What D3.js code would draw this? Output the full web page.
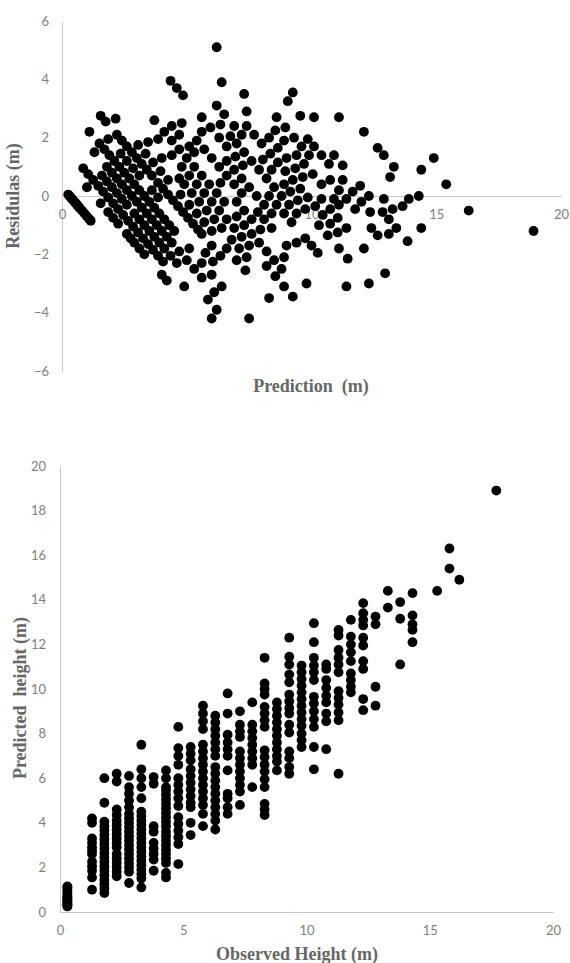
<!DOCTYPE html>
<html>
<head>
<meta charset="utf-8">
<script src="https://cdn.jsdelivr.net/npm/d3@7"></script>
<style>
  body { margin: 0; background: #fff; }
  svg text { white-space: pre; }
</style>
</head>
<body>
<div id="chart"></div>
<script>
// Configuration
const WIDTH = 570;
const HEIGHT = 963;
const DOT_R = 4.9;
const AXIS_COLOR = "#c8c8c8";
const TICK_COLOR = "#808080";
const TITLE_COLOR = "#666";

// Data: observed height columns, predicted heights per column, residuals (observed - predicted) per column
const observed = [0.3, 1.3, 1.8, 2.3, 2.8, 3.3, 3.8, 4.3, 4.8, 5.3, 5.8, 6.3, 6.8, 7.3, 7.8, 8.3,
    8.8, 9.3, 9.8, 10.3, 10.8, 11.3, 11.8, 12.3, 12.8, 13.3, 13.8, 14.3, 15.3, 15.8, 16.2, 17.7];

const predicted = [
    [0.25, 0.3, 0.35, 0.4, 0.45, 0.5, 0.55, 0.6, 0.65, 0.7, 0.8, 0.9, 1.0, 1.1, 1.15],
    [4.2, 4.0, 3.3, 3.1, 2.9, 2.75, 2.6, 2.25, 2.05, 1.85, 1.55, 1.0],
    [6.0, 4.9, 4.05, 3.85, 3.65, 3.45, 3.25, 3.05, 2.85, 2.65, 2.45, 2.25, 2.05, 1.85, 1.65, 1.45, 1.25, 1.05, 0.85],
    [6.2, 5.85, 4.6, 4.35, 4.1, 3.9, 3.7, 3.5, 3.3, 3.1, 2.9, 2.6, 2.4, 2.2, 2.0, 1.8, 1.6],
    [6.1, 5.6, 5.3, 5.0, 4.7, 4.4, 4.2, 4.0, 3.8, 3.6, 3.4, 3.2, 3.0, 2.8, 2.6, 2.4, 2.2, 2.0, 1.8, 1.3],
    [7.5, 6.4, 6.0, 5.6, 5.1, 4.5, 4.3, 4.1, 3.9, 3.7, 3.5, 3.3, 3.1, 2.9, 2.7, 2.5, 2.3, 2.1, 1.9, 1.7, 1.5, 1.1],
    [6.05, 5.75, 3.85, 3.6, 3.1, 2.85, 2.6, 2.35, 1.85],
    [6.35, 6.0, 5.6, 5.45, 5.25, 5.05, 4.85, 4.65, 4.45, 4.25, 4.05, 3.85, 3.6, 3.4, 3.2, 3.0, 2.8, 2.6, 2.4, 2.2, 1.75, 1.55],
    [8.3, 7.35, 7.0, 6.6, 6.0, 5.7, 5.4, 5.1, 4.75, 4.25, 3.95, 3.65, 3.35, 3.05, 2.15],
    [7.4, 7.1, 6.8, 6.4, 6.1, 5.8, 5.5, 5.2, 4.9, 4.7, 4.0, 3.45],
    [9.25, 8.9, 8.55, 8.2, 7.5, 7.2, 6.9, 6.6, 6.3, 6.0, 5.7, 5.4, 5.1, 4.8, 4.4, 3.85],
    [8.8, 8.5, 8.2, 7.9, 7.6, 7.3, 7.0, 6.5, 6.2, 5.9, 5.6, 5.3, 5.0, 4.7, 4.4, 4.1, 3.7],
    [9.8, 8.9, 7.95, 7.6, 7.3, 7.0, 6.35, 5.3, 5.1, 4.7, 4.4],
    [9.0, 8.4, 8.1, 7.85, 7.2, 6.9, 6.6, 6.3, 6.0, 5.7, 5.4, 4.8],
    [9.4, 8.4, 8.1, 7.8, 7.5, 7.2, 6.9, 6.6, 5.6],
    [11.4, 10.25, 10.0, 9.75, 9.2, 8.9, 8.6, 8.3, 7.25, 6.95, 6.6, 6.3, 5.95, 5.6, 4.85, 4.6, 4.35],
    [9.4, 9.1, 8.8, 8.5, 8.2, 7.9, 7.6, 7.3, 7.0, 6.75, 6.35],
    [12.3, 11.45, 11.1, 10.65, 10.3, 9.75, 9.45, 9.15, 8.9, 8.4, 8.05, 7.2, 6.9, 6.5, 6.2],
    [11.05, 10.75, 10.45, 10.15, 9.85, 9.55, 9.25, 8.95, 8.65, 8.35, 8.0, 7.7, 7.4],
    [12.95, 12.1, 11.4, 11.05, 10.75, 10.4, 9.65, 9.35, 9.0, 8.65, 8.3, 7.4, 6.4],
    [11.1, 10.9, 10.4, 10.05, 9.7, 9.4, 8.9, 8.55, 7.3],
    [12.65, 12.4, 11.75, 11.4, 11.1, 10.75, 9.9, 9.6, 9.3, 8.95, 8.6, 6.2],
    [13.1, 12.35, 12.0, 11.65, 11.25, 10.7, 10.4, 10.1, 9.85],
    [13.85, 13.4, 13.1, 12.85, 12.3, 11.95, 11.25, 10.9, 9.55, 9.05],
    [13.25, 12.9, 10.1, 9.25],
    [14.4, 13.65],
    [13.9, 13.15, 11.1],
    [14.3, 13.3, 12.9, 12.65, 12.1],
    [14.4],
    [16.3, 15.4],
    [14.9],
    [18.9]
];

const residual = [
    [0.05, 0, -0.05, -0.1, -0.15, -0.2, -0.25, -0.3, -0.35, -0.4, -0.5, -0.6, -0.7, -0.8, -0.85],
    [-2.9, -2.7, -2.0, -1.8, -1.6, -1.45, -1.3, -0.95, -0.75, -0.55, -0.25, 0.3],
    [-4.2, -3.1, -2.25, -2.05, -1.85, -1.65, -1.45, -1.25, -1.05, -0.85, -0.65, -0.45, -0.25, -0.05, 0.15, 0.35, 0.55, 0.75, 0.95],
    [-3.9, -3.55, -2.3, -2.05, -1.8, -1.6, -1.4, -1.2, -1.0, -0.8, -0.6, -0.3, -0.1, 0.1, 0.3, 0.5, 0.7],
    [-3.3, -2.8, -2.5, -2.2, -1.9, -1.6, -1.4, -1.2, -1.0, -0.8, -0.6, -0.4, -0.2, 0, 0.2, 0.4, 0.6, 0.8, 1.0, 1.5],
    [-4.2, -3.1, -2.7, -2.3, -1.8, -1.2, -1.0, -0.8, -0.6, -0.4, -0.2, 0, 0.2, 0.4, 0.6, 0.8, 1.0, 1.2, 1.4, 1.6, 1.8, 2.2],
    [-2.25, -1.95, -0.05, 0.2, 0.7, 0.95, 1.2, 1.45, 1.95],
    [-2.05, -1.7, -1.3, -1.15, -0.95, -0.75, -0.55, -0.35, -0.15, 0.05, 0.25, 0.45, 0.7, 0.9, 1.1, 1.3, 1.5, 1.7, 1.9, 2.1, 2.55, 2.75],
    [-3.5, -2.55, -2.2, -1.8, -1.2, -0.9, -0.6, -0.3, 0.05, 0.55, 0.85, 1.15, 1.45, 1.75, 2.65],
    [-2.1, -1.8, -1.5, -1.1, -0.8, -0.5, -0.2, 0.1, 0.4, 0.6, 1.3, 1.85],
    [-3.45, -3.1, -2.75, -2.4, -1.7, -1.4, -1.1, -0.8, -0.5, -0.2, 0.1, 0.4, 0.7, 1.0, 1.4, 1.95],
    [-2.5, -2.2, -1.9, -1.6, -1.3, -1.0, -0.7, -0.2, 0.1, 0.4, 0.7, 1.0, 1.3, 1.6, 1.9, 2.2, 2.6],
    [-3.0, -2.1, -1.15, -0.8, -0.5, -0.2, 0.45, 1.5, 1.7, 2.1, 2.4],
    [-1.7, -1.1, -0.8, -0.55, 0.1, 0.4, 0.7, 1.0, 1.3, 1.6, 1.9, 2.5],
    [-1.6, -0.6, -0.3, 0, 0.3, 0.6, 0.9, 1.2, 2.2],
    [-3.1, -1.95, -1.7, -1.45, -0.9, -0.6, -0.3, 0, 1.05, 1.35, 1.7, 2.0, 2.35, 2.7, 3.45, 3.7, 3.95],
    [-0.6, -0.3, 0, 0.3, 0.6, 0.9, 1.2, 1.5, 1.8, 2.05, 2.45],
    [-3.0, -2.15, -1.8, -1.35, -1.0, -0.45, -0.15, 0.15, 0.4, 0.9, 1.25, 2.1, 2.4, 2.8, 3.1],
    [-1.25, -0.95, -0.65, -0.35, -0.05, 0.25, 0.55, 0.85, 1.15, 1.45, 1.8, 2.1, 2.4],
    [-2.65, -1.8, -1.1, -0.75, -0.45, -0.1, 0.65, 0.95, 1.3, 1.65, 2.0, 2.9, 3.9],
    [-0.3, -0.1, 0.4, 0.75, 1.1, 1.4, 1.9, 2.25, 3.5],
    [-1.35, -1.1, -0.45, -0.1, 0.2, 0.55, 1.4, 1.7, 2.0, 2.35, 2.7, 5.1],
    [-1.3, -0.55, -0.2, 0.15, 0.55, 1.1, 1.4, 1.7, 1.95],
    [-1.55, -1.1, -0.8, -0.55, 0, 0.35, 1.05, 1.4, 2.75, 3.25],
    [-0.45, -0.1, 2.7, 3.55],
    [-1.1, -0.35],
    [-0.1, 0.65, 2.7],
    [0, 1.0, 1.4, 1.65, 2.2],
    [0.9],
    [-0.5, 0.4],
    [1.3],
    [-1.2]
];

// Tick values
const residTicks = [-6, -4, -2, 0, 2, 4, 6];
const predTicks = [0, 5, 10, 15, 20];
const heightTicks = [0, 2, 4, 6, 8, 10, 12, 14, 16, 18, 20];
const obsTicks = [0, 5, 10, 15, 20];

// Flatten into point records
const points = [];
observed.forEach((obs, i) => {
    predicted[i].forEach((p, j) => {
        points.push({ obs: obs, pred: p, resid: residual[i][j] });
    });
});

const svg = d3.select("#chart")
    .append("svg")
    .attr("width", WIDTH)
    .attr("height", HEIGHT);

function styleAxis(g) {
    g.select(".domain").attr("stroke", AXIS_COLOR).attr("stroke-width", 1);
    g.selectAll(".tick line").remove();
    g.selectAll(".tick text")
        .attr("fill", TICK_COLOR)
        .style("font-family", "Lato, 'Open Sans', sans-serif")
        .style("font-size", "13px");
}

function title(x, y, text, rotate) {
    const t = svg.append("text")
        .attr("text-anchor", "middle")
        .attr("fill", TITLE_COLOR)
        .style("font-family", "'Liberation Serif', 'Times New Roman', serif")
        .style("font-weight", "bold")
        .style("font-size", "18px")
        .text(text);
    if (rotate) {
        t.attr("transform", `translate(${x},${y}) rotate(-90)`);
    } else {
        t.attr("x", x).attr("y", y);
    }
}

// ---- Top chart: residuals vs prediction ----
const x1 = d3.scaleLinear().domain([0, 20]).range([62, 561]);
const y1 = d3.scaleLinear().domain([-6, 6]).range([371, 21]);

svg.append("g")
    .attr("transform", `translate(62,0)`)
    .call(d3.axisLeft(y1).tickValues(residTicks).tickSize(0).tickPadding(13).tickSizeOuter(0))
    .call(styleAxis);

svg.append("g")
    .attr("transform", `translate(0,${y1(0)})`)
    .call(d3.axisBottom(x1).tickValues(predTicks).tickSize(0).tickPadding(14).tickSizeOuter(0))
    .call(styleAxis);

svg.append("g")
    .selectAll("circle")
    .data(points)
    .join("circle")
    .attr("cx", d => x1(d.pred))
    .attr("cy", d => y1(d.resid))
    .attr("r", DOT_R)
    .attr("fill", "#000");

title(19, 196, "Residulas (m)", true);
title(311, 392, "Prediction  (m)", false);

// ---- Bottom chart: predicted vs observed ----
const x2 = d3.scaleLinear().domain([0, 20]).range([60, 553]);
const y2 = d3.scaleLinear().domain([0, 20]).range([912, 466]);

svg.append("g")
    .attr("transform", `translate(60,0)`)
    .call(d3.axisLeft(y2).tickValues(heightTicks).tickSize(0).tickPadding(14).tickSizeOuter(0))
    .call(styleAxis);

svg.append("g")
    .attr("transform", `translate(0,912)`)
    .call(d3.axisBottom(x2).tickValues(obsTicks).tickSize(0).tickPadding(14).tickSizeOuter(0))
    .call(styleAxis);

svg.append("g")
    .selectAll("circle")
    .data(points)
    .join("circle")
    .attr("cx", d => x2(d.obs))
    .attr("cy", d => y2(d.pred))
    .attr("r", DOT_R)
    .attr("fill", "#000");

title(26, 698, "Predicted  height (m)", true);
title(297, 960, "Observed Height (m)", false);
</script>
</body>
</html>
